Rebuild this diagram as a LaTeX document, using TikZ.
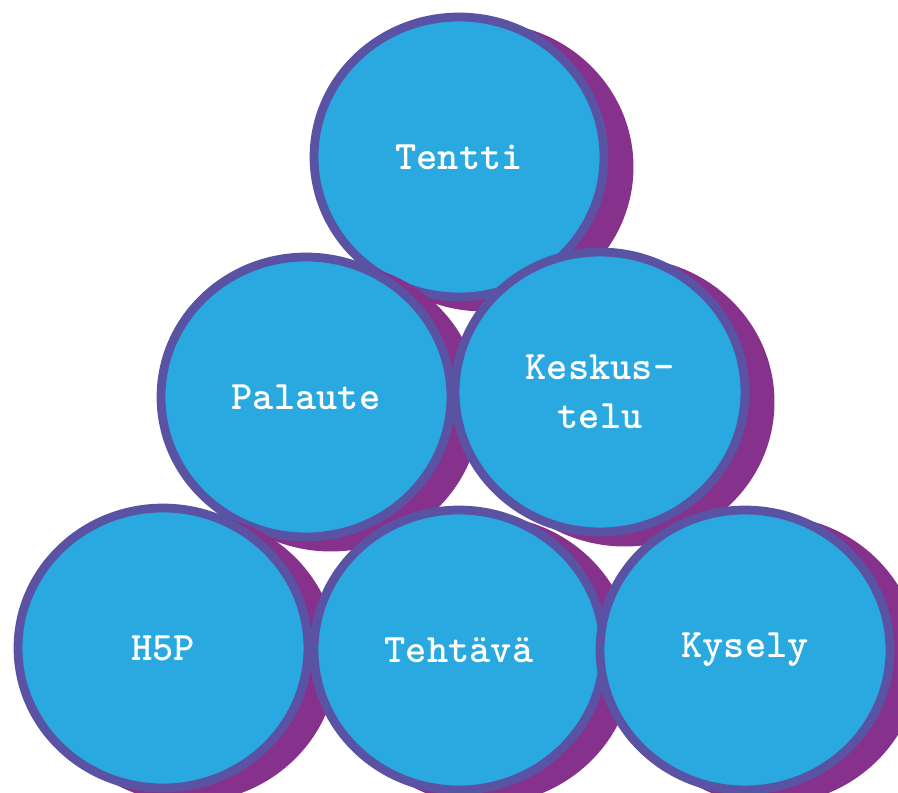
\documentclass[tikz,border=0pt]{standalone}
\usepackage{fontspec}
\usepackage{xcolor}
\usetikzlibrary{shapes.geometric}
\definecolor{ballBlue}{RGB}{41,169,224}
\definecolor{ballRim}{RGB}{90,82,163}
\definecolor{ballShade}{RGB}{134,49,139}
\tikzset{
  ball/.style={ellipse,draw=ballRim,fill=ballBlue,line width=5pt,minimum width=5.8cm,minimum height=5.6cm,inner sep=0pt,text=white,font=\ttfamily\bfseries\fontsize{23}{28}\selectfont,align=center},
  ballShadow/.style={ellipse,fill=ballShade,minimum width=5.98cm,minimum height=5.78cm,inner sep=0pt}
}

\begin{document}
\begin{tikzpicture}[x=0.02cm,y=-0.02cm]
\useasboundingbox (0,0) rectangle (898,793);
% ylin rivi
\node[ballShadow] (tenttiShadow) at (484,167) {};
\node[ball] (tentti) at (459,157) {Tentti};
% keskirivi
\node[ballShadow] (palauteShadow) at (331,407) {};
\node[ball] (palaute) at (306,397) {Palaute};
\node[ballShadow] (keskusteluShadow) at (625,402) {};
\node[ball] (keskustelu) at (600,392) {Keskus-\\telu};
% alarivi
\node[ballShadow] (h5pShadow) at (188,658) {};
\node[ball] (h5p) at (163,648) {H5P};
\node[ballShadow] (tehtavaShadow) at (484,660) {};
\node[ball] (tehtava) at (459,650) {Tehtävä};
\node[ballShadow] (kyselyShadow) at (770,660) {};
\node[ball] (kysely) at (745,650) {Kysely};
\end{tikzpicture}
\end{document}
